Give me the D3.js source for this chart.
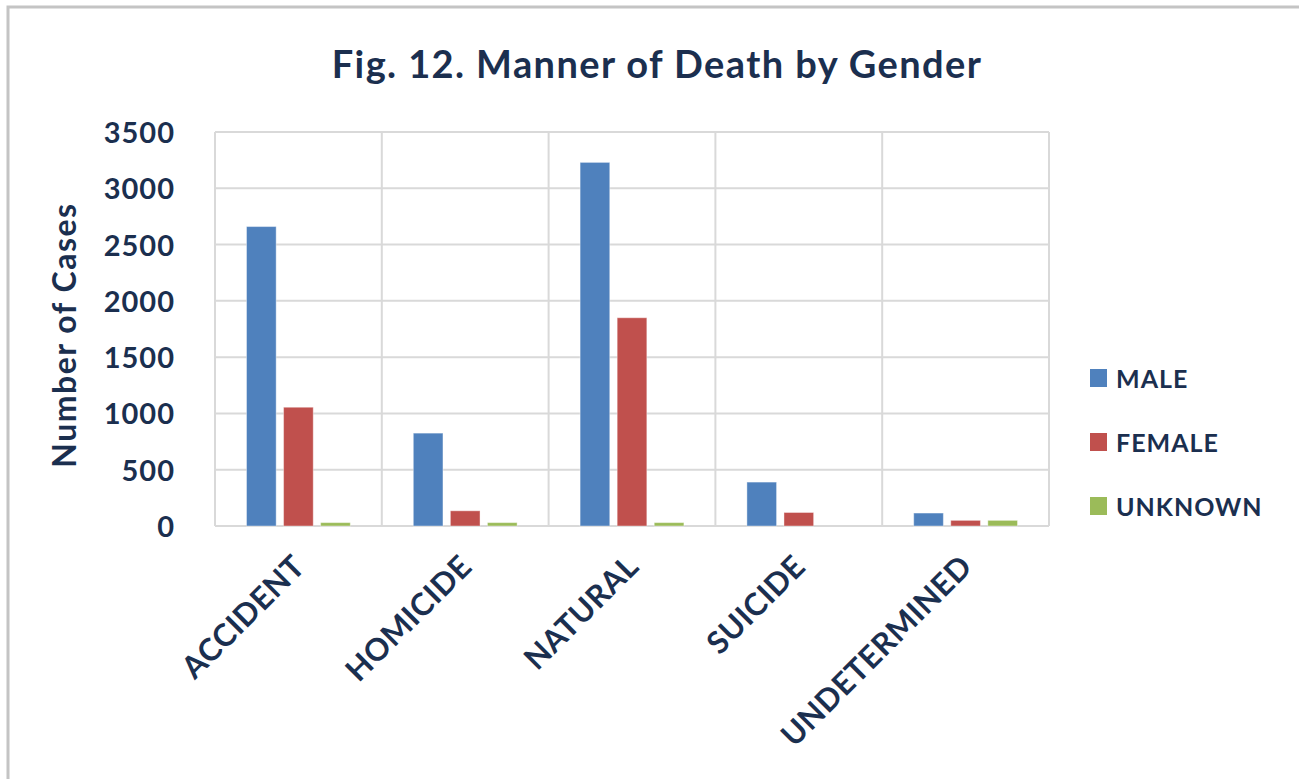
<!DOCTYPE html>
<html>
<head>
<meta charset="utf-8">
<script src="https://cdn.jsdelivr.net/npm/d3@7"></script>
<style>
  body { margin: 0; background: #fff; }
  svg text { font-family: Lato, "Open Sans", sans-serif; font-weight: bold; fill: #1b2f4f; }
</style>
</head>
<body>
<svg width="1299" height="779"></svg>
<script>
const categories = ['ACCIDENT', 'HOMICIDE', 'NATURAL', 'SUICIDE', 'UNDETERMINED'];
const seriesNames = ['MALE', 'FEMALE', 'UNKNOWN'];
const maleValues = [2660, 825, 3230, 390, 115];
const femaleValues = [1055, 135, 1850, 120, 50];
const unknownValues = [30, 30, 30, 0, 50];
const yTicks = [0, 500, 1000, 1500, 2000, 2500, 3000, 3500];
const colors = ['#4f81bd', '#c0504d', '#9bbb59'];

const svg = d3.select('svg');
const margin = { left: 215, right: 250, top: 132, bottom: 253 };
const width = 1299 - margin.left - margin.right;
const height = 779 - margin.top - margin.bottom;

// chart frame (only left and top edges show in the picture)
svg.append('rect')
  .attr('x', 8).attr('y', 7)
  .attr('width', 1320).attr('height', 800)
  .attr('fill', 'none')
  .attr('stroke', '#c4c4c4')
  .attr('stroke-width', 3);

svg.append('text')
  .attr('x', 657).attr('y', 78)
  .attr('text-anchor', 'middle')
  .style('font-size', '38px')
  .style('letter-spacing', '1.4px')
  .text('Fig. 12. Manner of Death by Gender');

const g = svg.append('g').attr('transform', `translate(${margin.left},${margin.top})`);

const x0 = d3.scaleBand().domain(categories).range([0, width]);
const x1 = d3.scaleBand().domain(seriesNames).range([0, x0.bandwidth()])
  .paddingInner(0.2).paddingOuter(0.85);
const y = d3.scaleLinear().domain([0, 3500]).range([height, 0]);

// gridlines
g.selectAll('.hgrid').data(yTicks).join('line')
  .attr('x1', 0).attr('x2', width)
  .attr('y1', d => y(d)).attr('y2', d => y(d))
  .attr('stroke', '#d9d9d9').attr('stroke-width', 2);
g.selectAll('.vgrid').data(d3.range(categories.length + 1)).join('line')
  .attr('x1', i => i * x0.step()).attr('x2', i => i * x0.step())
  .attr('y1', 0).attr('y2', height)
  .attr('stroke', '#d9d9d9').attr('stroke-width', 2);

const series = [maleValues, femaleValues, unknownValues];
const rows = [];
series.forEach((vals, s) => {
  vals.forEach((v, i) => rows.push({ cat: categories[i], ser: seriesNames[s], v: v, c: colors[s] }));
});

g.selectAll('.bar').data(rows.filter(d => d.v > 0)).join('rect')
  .attr('x', d => x0(d.cat) + x1(d.ser))
  .attr('y', d => y(d.v))
  .attr('width', x1.bandwidth())
  .attr('height', d => height - y(d.v))
  .attr('fill', d => d.c)
  .attr('stroke', '#ffffff')
  .attr('stroke-opacity', 0.4)
  .attr('stroke-width', 1);

// y axis labels
const yAxis = g.append('g')
  .call(d3.axisLeft(y).tickValues(yTicks).tickFormat(d3.format('d')).tickSize(0).tickPadding(40));
yAxis.select('.domain').remove();
yAxis.selectAll('text')
  .attr('dy', '0.36em')
  .style('font-size', '29px')
  .style('letter-spacing', '1px')
  .style('font-family', 'Lato, sans-serif')
  .attr('fill', '#1b2f4f');

// x axis labels
const xAxis = g.append('g').attr('transform', `translate(0,${height})`)
  .call(d3.axisBottom(x0).tickSize(0).tickPadding(0));
xAxis.select('.domain').remove();
xAxis.selectAll('text')
  .attr('text-anchor', 'end')
  .attr('dy', '0.75em')
  .attr('transform', 'translate(-8,26) rotate(-45)')
  .style('font-size', '31px')
  .style('letter-spacing', '0.5px')
  .style('font-family', 'Lato, sans-serif')
  .attr('fill', '#1b2f4f');

svg.append('text')
  .attr('transform', 'translate(76,335) rotate(-90)')
  .attr('text-anchor', 'middle')
  .style('font-size', '32px')
  .style('letter-spacing', '1.5px')
  .text('Number of Cases');

// legend
const legend = svg.append('g').attr('transform', 'translate(1090,369)');
const items = legend.selectAll('g').data(seriesNames).join('g')
  .attr('transform', (d, i) => `translate(0,${i * 64})`);
items.append('rect')
  .attr('width', 17).attr('height', 18)
  .attr('fill', (d, i) => colors[i]);
items.append('text')
  .attr('x', 26).attr('y', 19)
  .style('font-size', '25px')
  .style('letter-spacing', '1px')
  .text(d => d);
</script>
</body>
</html>
